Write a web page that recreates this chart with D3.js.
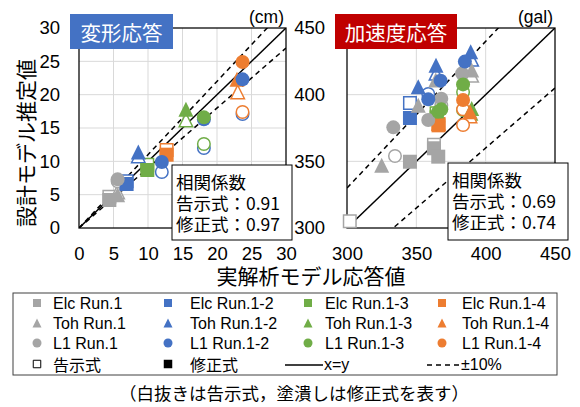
<!DOCTYPE html>
<html>
<head>
<meta charset="utf-8">
<script src="https://cdn.jsdelivr.net/npm/d3@7"></script>
<style>
  body { margin: 0; background: #fff; }
  text { font-family: "Liberation Sans", Arial, "Noto Sans CJK JP", sans-serif; fill: #000; }
  .jp { font-family: "Noto Sans CJK JP", "Liberation Sans", sans-serif; }
</style>
</head>
<body>
<svg id="chart" width="580" height="407"></svg>
<script>
// Series, in plotting order (wave × run)
const seriesLabels = [
  "Elc Run.1", "Elc Run.1-2", "Elc Run.1-3", "Elc Run.1-4",
  "Toh Run.1", "Toh Run.1-2", "Toh Run.1-3", "Toh Run.1-4",
  "L1 Run.1", "L1 Run.1-2", "L1 Run.1-3", "L1 Run.1-4"
];
const runLabels = ["Run.1", "Run.1-2", "Run.1-3", "Run.1-4"];
const waveLabels = ["Elc", "Toh", "L1"];

// Displacement response (cm): [analysis, estimate] per series
const dispOpen = [
  [[4.4, 4.7]], [[6.9, 7.0]], [[9.9, 9.5]], [[12.7, 11.7]],
  [[5.6, 5.4]], [[8.6, 10.8]], [[15.5, 16.2]], [[23.0, 20.4]],
  [[5.6, 7.0]], [[12.0, 8.4], [18.1, 12.0], [23.7, 17.1]], [[18.1, 12.6]], [[23.7, 17.4]]
];
const dispFilled = [
  [[4.4, 4.2]], [[6.9, 6.6]], [[9.9, 8.7]], [[12.7, 11.0]],
  [[5.6, 5.0]], [[8.6, 11.4]], [[15.5, 17.8]], [[22.9, 22.3]],
  [[5.6, 7.3]], [[12.0, 9.9], [18.1, 16.3], [23.7, 22.3]], [[18.1, 16.6]], [[23.7, 24.9]]
];

// Acceleration response (gal): [analysis, estimate] per series
const accOpen = [
  [[302, 305], [362.7, 362.5]], [[345.4, 393.7]], [[364.6, 386]], [[366, 378]],
  [[389.9, 414.5]], [[364.2, 416], [389.9, 426.5]], [[389, 386]], [[388.7, 384]],
  [[334.6, 354], [368, 392]], [[358.6, 400.5]], [[365.8, 379.7], [383.7, 402], [383.7, 388.5]], [[383.7, 389], [383.7, 377.2]]
];
const accFilled = [
  [[345.4, 349.7], [362.7, 359.8], [365.8, 353.5]], [[345.4, 382.5]], [[364.6, 383]], [[366, 377]],
  [[325, 347], [351.4, 392], [364, 411], [389.9, 418.5]], [[351.4, 406], [364.2, 422], [389.2, 432.2]], [[389.9, 389.7]], [[388.7, 387.2], [366, 378.5]],
  [[333.4, 375.5], [358.6, 381], [368, 397], [383, 416]], [[358.6, 396.5], [367.5, 410.5], [385, 424.8]], [[365.8, 387.2], [368, 389], [383.7, 407.7]], [[383.7, 396]]
];

const dispTicks = [0, 5, 10, 15, 20, 25, 30];
const accTicks = [300, 350, 400, 450];
const dispCorr = [0.91, 0.97];   // 告示式, 修正式
const accCorr = [0.69, 0.74];
const bandRatio = 0.10;          // ±10% guide lines

// ---- styling ----
const runColors = ["#A5A5A5", "#4472C4", "#70AD47", "#ED7D31"];
const waveShapes = { Elc: "square", Toh: "triangle", L1: "circle" };
const colorOf = lbl => runColors[runLabels.indexOf(lbl.split(" ")[1])];
const shapeOf = lbl => waveShapes[lbl.split(" ")[0]];

function markerPath(shape, s) {
  const h = s / 2;
  if (shape === "square") return `M${-h},${-h}H${h}V${h}H${-h}Z`;
  if (shape === "triangle") return `M0,${-h}L${h},${h}L${-h},${h}Z`;
  return `M${h},0A${h},${h} 0 1,1 ${-h},0A${h},${h} 0 1,1 ${h},0Z`;
}
const markerSize = { square: 14, triangle: 15, circle: 14 };

const svg = d3.select("#chart");

function drawPanel(p) {
  const x = d3.scaleLinear().domain(p.domain).range([p.left, p.right]);
  const y = d3.scaleLinear().domain(p.domain).range([p.bottom, p.top]);
  const g = svg.append("g");

  // grid
  const inner = p.ticks.slice(1, -1);
  g.selectAll(".gx").data(inner).join("line")
    .attr("x1", d => x(d)).attr("x2", d => x(d))
    .attr("y1", p.top).attr("y2", p.bottom)
    .attr("stroke", "#D9D9D9").attr("stroke-width", 1);
  g.selectAll(".gy").data(inner).join("line")
    .attr("y1", d => y(d)).attr("y2", d => y(d))
    .attr("x1", p.left).attr("x2", p.right)
    .attr("stroke", "#D9D9D9").attr("stroke-width", 1);

  // axes (labels only)
  const ax = g.append("g").attr("transform", `translate(0,${p.bottom})`)
    .call(d3.axisBottom(x).tickValues(p.ticks).tickSize(0).tickPadding(19));
  const ay = g.append("g").attr("transform", `translate(${p.left},0)`)
    .call(d3.axisLeft(y).tickValues(p.ticks).tickSize(0).tickPadding(p.yPad));
  [ax, ay].forEach(a => {
    a.select(".domain").remove();
    a.selectAll("text").attr("font-size", "18.5px")
      .attr("font-family", "'Liberation Sans', Arial, sans-serif").attr("fill", "#000");
  });

  // guide lines
  const clipId = "clip" + p.id;
  svg.append("clipPath").attr("id", clipId).append("rect")
    .attr("x", p.left).attr("y", p.top)
    .attr("width", p.right - p.left).attr("height", p.bottom - p.top);
  const line = d3.line().x(d => x(d[0])).y(d => y(d[1]));
  const [d0, d1] = p.domain;
  const lg = g.append("g").attr("clip-path", `url(#${clipId})`);
  [1 + bandRatio, 1 - bandRatio].forEach(k => {
    lg.append("path").attr("d", line([[d0, d0 * k], [d1, d1 * k]]))
      .attr("fill", "none").attr("stroke", "#000").attr("stroke-width", 1.5)
      .attr("stroke-dasharray", "5,4");
  });
  lg.append("path").attr("d", line([[d0, d0], [d1, d1]]))
    .attr("fill", "none").attr("stroke", "#000").attr("stroke-width", 1.5);

  // plot-area frame
  g.append("rect").attr("x", p.left).attr("y", p.top)
    .attr("width", p.right - p.left).attr("height", p.bottom - p.top)
    .attr("fill", "none").attr("stroke", "#000").attr("stroke-width", 1.25);

  // markers: open (告示式) first, then filled (修正式)
  const mg = g.append("g");
  p.open.forEach((pts, i) => {
    const lbl = seriesLabels[i], shp = shapeOf(lbl);
    mg.selectAll(null).data(pts).join("path")
      .attr("transform", d => `translate(${x(d[0])},${y(d[1])})`)
      .attr("d", markerPath(shp, markerSize[shp] - 1.5))
      .attr("fill", "#fff").attr("stroke", colorOf(lbl)).attr("stroke-width", 1.5);
  });
  p.filled.forEach((pts, i) => {
    const lbl = seriesLabels[i], shp = shapeOf(lbl);
    mg.selectAll(null).data(pts).join("path")
      .attr("transform", d => `translate(${x(d[0])},${y(d[1])})`)
      .attr("d", markerPath(shp, markerSize[shp]))
      .attr("fill", colorOf(lbl));
  });

  // title badge
  g.append("rect").attr("x", p.badge[0]).attr("y", 14)
    .attr("width", p.badge[1] - p.badge[0]).attr("height", 35).attr("fill", p.badgeColor);
  g.append("text").attr("class", "jp")
    .attr("x", (p.badge[0] + p.badge[1]) / 2).attr("y", 31.5)
    .attr("text-anchor", "middle").attr("dominant-baseline", "central")
    .attr("font-size", "20.5px").style("fill", "#fff").text(p.title);

  // unit
  g.append("text").attr("x", p.right - 2).attr("y", 17)
    .attr("text-anchor", "end").attr("dominant-baseline", "central")
    .attr("font-size", "17.5px").text(p.unit);

  // correlation box
  const fmt = d3.format(".2f");
  g.append("rect").attr("x", p.corrBox[0]).attr("y", p.corrBox[1])
    .attr("width", 120).attr("height", 240 - p.corrBox[1])
    .attr("fill", "#fff").attr("stroke", "#000").attr("stroke-width", 1);
  const lines = ["相関係数", "告示式：" + fmt(p.corr[0]), "修正式：" + fmt(p.corr[1])];
  g.selectAll(null).data(lines).join("text")
    .attr("class", "jp")
    .attr("x", p.corrBox[0] + 4)
    .attr("y", (d, i) => p.corrBox[1] + 24 + i * 20.8)
    .attr("font-size", "17.5px").text(d => d);
}

drawPanel({
  id: "disp", domain: [0, 30], ticks: dispTicks,
  left: 79, right: 286, top: 28, bottom: 228, yPad: 19,
  open: dispOpen, filled: dispFilled,
  title: "変形応答", badge: [70, 173], badgeColor: "#4472C4",
  unit: "(cm)", corr: dispCorr, corrBox: [172, 165]
});
drawPanel({
  id: "acc", domain: [300, 450], ticks: accTicks,
  left: 347, right: 555, top: 28, bottom: 228, yPad: 22,
  open: accOpen, filled: accFilled,
  title: "加速度応答", badge: [335, 457], badgeColor: "#C00000",
  unit: "(gal)", corr: accCorr, corrBox: [448, 163]
});

// axis titles
svg.append("text").attr("class", "jp")
  .attr("transform", "translate(25,143) rotate(-90)")
  .attr("text-anchor", "middle").attr("dominant-baseline", "central")
  .attr("font-size", "21px").text("設計モデル推定値");
svg.append("text").attr("class", "jp")
  .attr("x", 311).attr("y", 275)
  .attr("text-anchor", "middle").attr("dominant-baseline", "central")
  .attr("font-size", "21px").text("実解析モデル応答値");

// legend
const leg = svg.append("g");
leg.append("rect").attr("x", 13).attr("y", 293).attr("width", 544).attr("height", 82)
  .attr("fill", "#fff").attr("stroke", "#404040").attr("stroke-width", 1);
const colSym = [37, 168, 308, 442];
const colTxt = [53, 190, 325, 462];
const rowY = [303, 323, 343, 364];
const legSize = { square: 8, triangle: 9, circle: 9 };
seriesLabels.forEach(lbl => {
  const [wave, run] = lbl.split(" ");
  const c = runLabels.indexOf(run), r = waveLabels.indexOf(wave);
  const shp = shapeOf(lbl);
  leg.append("path").attr("transform", `translate(${colSym[c]},${rowY[r]})`)
    .attr("d", markerPath(shp, legSize[shp])).attr("fill", colorOf(lbl));
  leg.append("text").attr("x", colTxt[c]).attr("y", rowY[r])
    .attr("dominant-baseline", "central").attr("font-size", "16px").text(lbl);
});
leg.append("path").attr("transform", `translate(${colSym[0]},${rowY[3]})`)
  .attr("d", markerPath("square", 7.5)).attr("fill", "#fff").attr("stroke", "#000").attr("stroke-width", 1);
leg.append("text").attr("class", "jp").attr("x", colTxt[0]).attr("y", rowY[3])
  .attr("dominant-baseline", "central").attr("font-size", "16px").text("告示式");
leg.append("path").attr("transform", `translate(${colSym[1]},${rowY[3]})`)
  .attr("d", markerPath("square", 8.5)).attr("fill", "#000");
leg.append("text").attr("class", "jp").attr("x", colTxt[1]).attr("y", rowY[3])
  .attr("dominant-baseline", "central").attr("font-size", "16px").text("修正式");
leg.append("line").attr("x1", 285).attr("x2", 323).attr("y1", rowY[3] + 1).attr("y2", rowY[3] + 1)
  .attr("stroke", "#000").attr("stroke-width", 1.5);
leg.append("text").attr("x", 324).attr("y", rowY[3])
  .attr("dominant-baseline", "central").attr("font-size", "16px").text("x=y");
leg.append("line").attr("x1", 427).attr("x2", 461).attr("y1", rowY[3] + 1).attr("y2", rowY[3] + 1)
  .attr("stroke", "#000").attr("stroke-width", 1.5).attr("stroke-dasharray", "5,4");
leg.append("text").attr("x", 461).attr("y", rowY[3])
  .attr("dominant-baseline", "central").attr("font-size", "16px").text("±10%");

// footnote
svg.append("text").attr("class", "jp")
  .attr("x", 294).attr("y", 392)
  .attr("text-anchor", "middle").attr("dominant-baseline", "central")
  .attr("font-size", "17.5px").text("（白抜きは告示式，塗潰しは修正式を表す）");
</script>
</body>
</html>
